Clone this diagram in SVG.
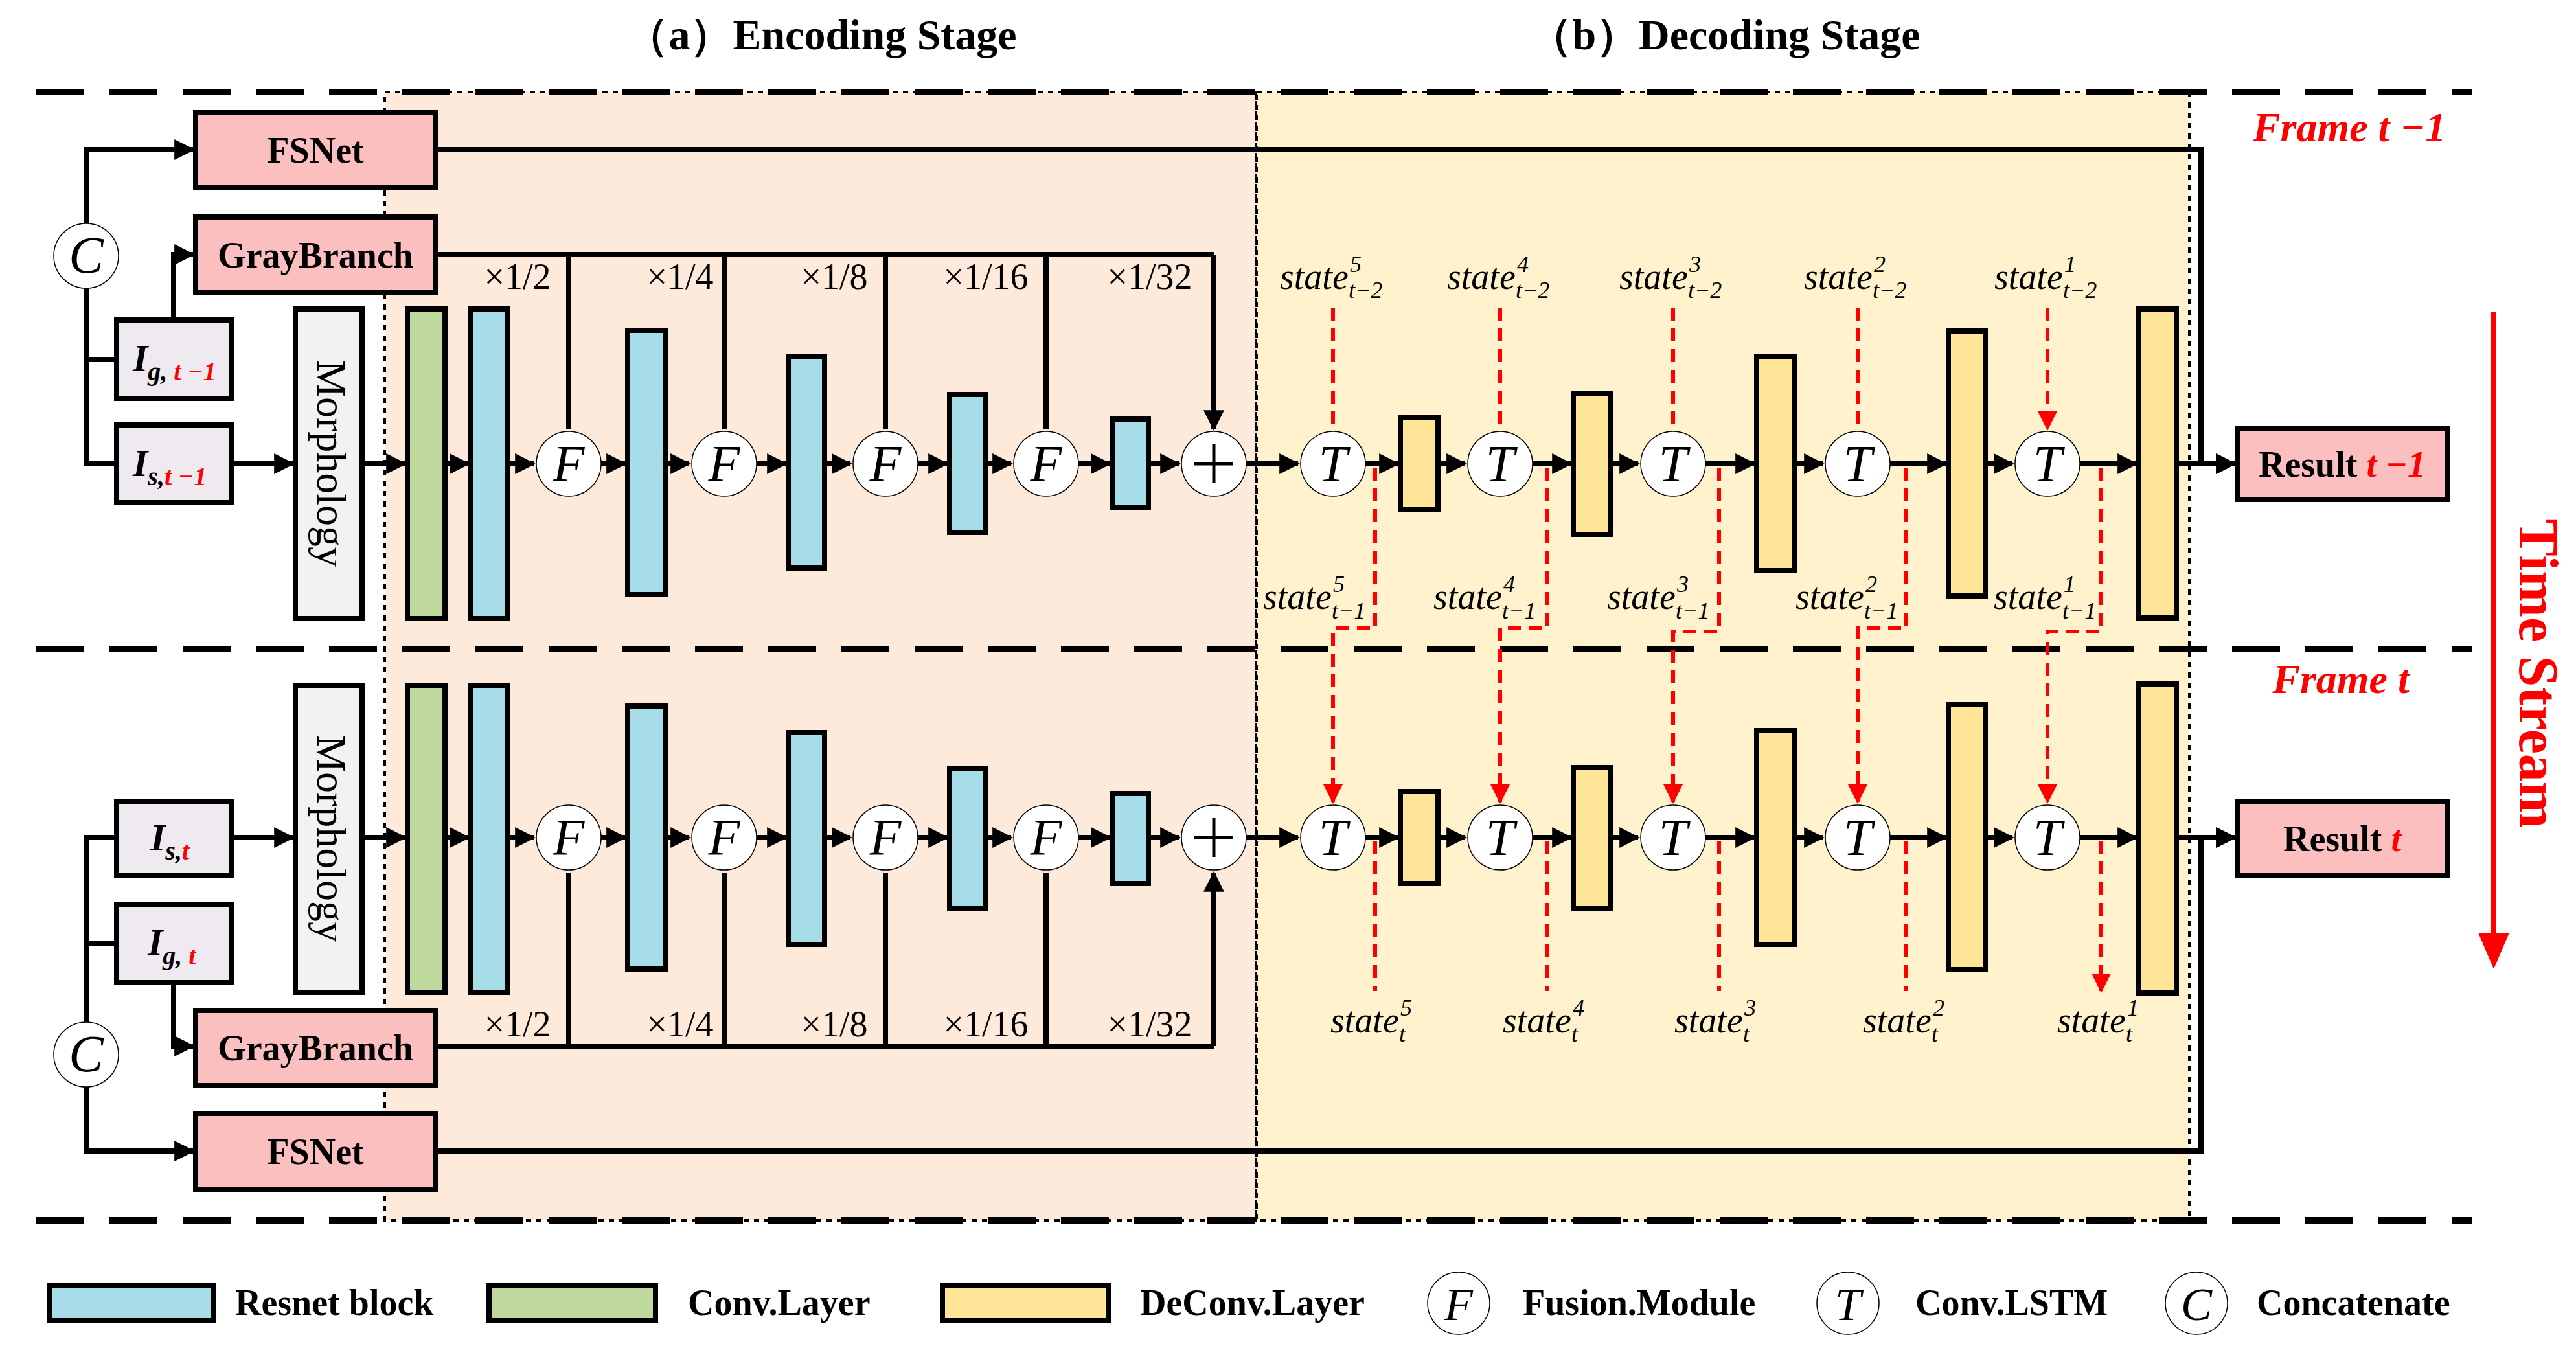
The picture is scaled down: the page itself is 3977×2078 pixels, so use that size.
<svg xmlns="http://www.w3.org/2000/svg" width="3977" height="2078" viewBox="0 0 3977 2078">
<style>
text{font-family:"Liberation Serif","Times New Roman",serif;}
.b{font-weight:bold;font-size:56px;text-anchor:middle}
.bx{stroke:#000;stroke-width:8}
.pk{fill:#fcbfc0}.gy{fill:#efe9f0}.mo{fill:#f2f2f2}
.gr{fill:#bed89d}.bl{fill:#a7dde8}.ye{fill:#fee597}
.ln{stroke:#000;stroke-width:8;fill:none}
.rd{stroke:#f00;stroke-width:6;fill:none;stroke-dasharray:20 12}
.ci{fill:#fff;stroke:#000;stroke-width:1.5}
.cl{font-style:italic;font-size:80px;text-anchor:middle}
.sc{font-size:56px;text-anchor:middle}
.st{font-style:italic;font-size:56px}
.ss{font-style:italic;font-size:36px}
.big{stroke:#000;stroke-width:10;stroke-dasharray:74 39}
.red{fill:#f00}
</style>
<defs>
<marker id="a" viewBox="0 0 10 10" refX="9" refY="5" markerWidth="4" markerHeight="4" orient="auto" markerUnits="strokeWidth"><path d="M0,0L10,5L0,10z"/></marker>
<marker id="r" viewBox="0 0 10 10" refX="9" refY="5" markerWidth="5" markerHeight="5" orient="auto" markerUnits="strokeWidth"><path d="M0,0L10,5L0,10z" fill="#f00"/></marker>
</defs>
<rect width="3977" height="2078" fill="#fff"/>
<g id="bg">
<rect x="594" y="142" width="1346" height="1742" fill="#fdeadb" stroke="#000" stroke-width="4" stroke-dasharray="8 8"/>
<rect x="1940" y="142" width="1440" height="1742" fill="#fff2cc" stroke="#000" stroke-width="4" stroke-dasharray="8 8"/>
<line x1="56" y1="142" x2="3817" y2="142" class="big"/>
<line x1="56" y1="1002" x2="3817" y2="1002" class="big"/>
<line x1="56" y1="1884" x2="3817" y2="1884" class="big"/>
</g>
<g id="titles">
<text x="1268" y="76" class="b" style="font-size:66px">（a）Encoding Stage</text>
<text x="2663" y="76" class="b" style="font-size:66px">（b）Decoding Stage</text>
<text x="3627" y="218" class="b red" style="font-style:italic;font-size:64px">Frame t −1</text>
<text x="3614" y="1070" class="b red" style="font-style:italic;font-size:64px">Frame t</text>
<text transform="translate(3890,1040) rotate(90)" class="b red" style="font-size:86px">Time Stream</text>
<line x1="3850" y1="482" x2="3850" y2="1440" stroke="#f00" stroke-width="8"/>
<path d="M3826,1440L3874,1440L3850,1496z" fill="#f00"/>
</g>
<g id="connectors">
<!-- top left -->
<polyline class="ln" points="133,345 133,231 298,231" marker-end="url(#a)"/>
<polyline class="ln" points="133,445 133,716 180,716"/>
<line class="ln" x1="133" y1="555" x2="180" y2="555"/>
<polyline class="ln" points="268,494 268,393 298,393" marker-end="url(#a)"/>
<path class="ln" marker-end="url(#a)" d="M357,716H452"/>
<path class="ln" marker-end="url(#a)" d="M559,716H625"/>
<path class="ln" marker-end="url(#a)" d="M687,716H723"/>
<path class="ln" marker-end="url(#a)" d="M784,716H824"/>
<path class="ln" marker-end="url(#a)" d="M928,716H965"/>
<path class="ln" marker-end="url(#a)" d="M1027,716H1064"/>
<path class="ln" marker-end="url(#a)" d="M1168,716H1213"/>
<path class="ln" marker-end="url(#a)" d="M1273,716H1313"/>
<path class="ln" marker-end="url(#a)" d="M1417,716H1462"/>
<path class="ln" marker-end="url(#a)" d="M1522,716H1561"/>
<path class="ln" marker-end="url(#a)" d="M1665,716H1713"/>
<path class="ln" marker-end="url(#a)" d="M1773,716H1820"/>
<path class="ln" marker-end="url(#a)" d="M1924,716H2004"/>
<path class="ln" marker-end="url(#a)" d="M2108,716H2158"/>
<path class="ln" marker-end="url(#a)" d="M2220,716H2262"/>
<path class="ln" marker-end="url(#a)" d="M2366,716H2425"/>
<path class="ln" marker-end="url(#a)" d="M2486,716H2529"/>
<path class="ln" marker-end="url(#a)" d="M2633,716H2708"/>
<path class="ln" marker-end="url(#a)" d="M2771,716H2814"/>
<path class="ln" marker-end="url(#a)" d="M2918,716H3004"/>
<path class="ln" marker-end="url(#a)" d="M3065,716H3107"/>
<path class="ln" marker-end="url(#a)" d="M3211,716H3298"/>
<path class="ln" marker-end="url(#a)" d="M3360,716H3450"/>
<polyline class="ln" points="672,231 3398,231 3398,716 3450,716" marker-end="url(#a)"/>
<path class="ln" d="M672,393H1874"/>
<path class="ln" marker-end="url(#a)" d="M878,393V662M1118,393V662M1367,393V662M1615,393V662M1874,393V662"/>
<!-- bottom -->
<polyline class="ln" points="133,1578 133,1293 180,1293"/>
<line class="ln" x1="133" y1="1457" x2="180" y2="1457"/>
<polyline class="ln" points="133,1678 133,1777 298,1777" marker-end="url(#a)"/>
<polyline class="ln" points="268,1517 268,1615 298,1615" marker-end="url(#a)"/>
<path class="ln" marker-end="url(#a)" d="M357,1293H452"/>
<path class="ln" marker-end="url(#a)" d="M559,1293H625"/>
<path class="ln" marker-end="url(#a)" d="M687,1293H723"/>
<path class="ln" marker-end="url(#a)" d="M784,1293H824"/>
<path class="ln" marker-end="url(#a)" d="M928,1293H965"/>
<path class="ln" marker-end="url(#a)" d="M1027,1293H1064"/>
<path class="ln" marker-end="url(#a)" d="M1168,1293H1213"/>
<path class="ln" marker-end="url(#a)" d="M1273,1293H1313"/>
<path class="ln" marker-end="url(#a)" d="M1417,1293H1462"/>
<path class="ln" marker-end="url(#a)" d="M1522,1293H1561"/>
<path class="ln" marker-end="url(#a)" d="M1665,1293H1713"/>
<path class="ln" marker-end="url(#a)" d="M1773,1293H1820"/>
<path class="ln" marker-end="url(#a)" d="M1924,1293H2004"/>
<path class="ln" marker-end="url(#a)" d="M2108,1293H2158"/>
<path class="ln" marker-end="url(#a)" d="M2220,1293H2262"/>
<path class="ln" marker-end="url(#a)" d="M2366,1293H2425"/>
<path class="ln" marker-end="url(#a)" d="M2486,1293H2529"/>
<path class="ln" marker-end="url(#a)" d="M2633,1293H2708"/>
<path class="ln" marker-end="url(#a)" d="M2771,1293H2814"/>
<path class="ln" marker-end="url(#a)" d="M2918,1293H3004"/>
<path class="ln" marker-end="url(#a)" d="M3065,1293H3107"/>
<path class="ln" marker-end="url(#a)" d="M3211,1293H3298"/>
<path class="ln" marker-end="url(#a)" d="M3360,1293H3450"/>
<polyline class="ln" points="672,1777 3398,1777 3398,1293 3450,1293" marker-end="url(#a)"/>
<path class="ln" d="M672,1615H1874"/>
<path class="ln" marker-end="url(#a)" d="M878,1615V1348M1118,1615V1348M1367,1615V1348M1615,1615V1348M1874,1615V1348"/>
<!-- red state connectors -->
<path class="rd" marker-end="url(#r)" d="M2058,475V662M2316,475V662M2583,475V662M2868,475V662M3161,475V662"/>
<polyline class="rd" points="2123,722 2123,970 2058,970 2058,1238" marker-end="url(#r)"/>
<polyline class="rd" points="2388,722 2388,970 2316,970 2316,1238" marker-end="url(#r)"/>
<polyline class="rd" points="2654,722 2654,975 2583,975 2583,1238" marker-end="url(#r)"/>
<polyline class="rd" points="2943,722 2943,970 2868,970 2868,1238" marker-end="url(#r)"/>
<polyline class="rd" points="3244,722 3244,975 3161,975 3161,1238" marker-end="url(#r)"/>
<path class="rd" marker-end="url(#r)" d="M2123,1298V1530M2388,1298V1530M2654,1298V1530M2943,1298V1530M3244,1298V1530"/>
</g>
<g id="scales">
<text x="799" y="446" class="sc">×1/2</text><text x="1050" y="446" class="sc">×1/4</text><text x="1288" y="446" class="sc">×1/8</text><text x="1522" y="446" class="sc">×1/16</text><text x="1775" y="446" class="sc">×1/32</text>
<text x="799" y="1600" class="sc">×1/2</text><text x="1050" y="1600" class="sc">×1/4</text><text x="1288" y="1600" class="sc">×1/8</text><text x="1522" y="1600" class="sc">×1/16</text><text x="1775" y="1600" class="sc">×1/32</text>
</g>
<g id="top-frame">
<g id="fsnet1"><rect class="bx pk" x="302" y="174" width="370" height="116"/><text x="487" y="251" class="b">FSNet</text></g>
<g id="gray1"><rect class="bx pk" x="302" y="335" width="370" height="116"/><text x="487" y="413" class="b">GrayBranch</text></g>
<g id="concat1"><circle class="ci" cx="133" cy="395" r="50"/><text x="133" y="421" class="cl">C</text></g>
<g id="ig1"><rect class="bx gy" x="180" y="494" width="177" height="121"/><text x="205" y="573" style="font-size:60px;font-weight:bold;font-style:italic">I<tspan font-size="40" dy="14">g, </tspan><tspan font-size="40" fill="#f00">t −1</tspan></text></g>
<g id="is1"><rect class="bx gy" x="180" y="656" width="177" height="120"/><text x="205" y="735" style="font-size:60px;font-weight:bold;font-style:italic">I<tspan font-size="40" dy="14">s,</tspan><tspan font-size="40" fill="#f00">t −1</tspan></text></g>
<g id="morph1"><rect class="bx mo" x="456" y="477" width="103" height="478"/><text transform="translate(490,716) rotate(90)" style="font-size:64px;text-anchor:middle">Morphology</text></g>
<g id="conv1"><rect class="bx gr" x="629" y="477" width="58" height="478"/></g>
<g id="res1a"><rect class="bx bl" x="727" y="477" width="57" height="478"/></g>
<g id="f1a"><circle class="ci" cx="878" cy="716" r="50"/><text x="878" y="743" class="cl">F</text></g>
<g id="res1b"><rect class="bx bl" x="969" y="510" width="58" height="408"/></g>
<g id="f1b"><circle class="ci" cx="1118" cy="716" r="50"/><text x="1118" y="743" class="cl">F</text></g>
<g id="res1c"><rect class="bx bl" x="1217" y="550" width="56" height="327"/></g>
<g id="f1c"><circle class="ci" cx="1367" cy="716" r="50"/><text x="1367" y="743" class="cl">F</text></g>
<g id="res1d"><rect class="bx bl" x="1466" y="609" width="56" height="213"/></g>
<g id="f1d"><circle class="ci" cx="1615" cy="716" r="50"/><text x="1615" y="743" class="cl">F</text></g>
<g id="res1e"><rect class="bx bl" x="1717" y="647" width="56" height="137"/></g>
<g id="plus1"><circle class="ci" cx="1874" cy="716" r="50"/><path d="M1844,716H1904M1874,686V746" stroke="#000" stroke-width="5"/></g>
<g id="t1a"><circle class="ci" cx="2058" cy="716" r="50"/><text x="2058" y="743" class="cl">T</text></g>
<g id="d1a"><rect class="bx ye" x="2162" y="645" width="58" height="142"/></g>
<g id="t1b"><circle class="ci" cx="2316" cy="716" r="50"/><text x="2316" y="743" class="cl">T</text></g>
<g id="d1b"><rect class="bx ye" x="2429" y="608" width="57" height="217"/></g>
<g id="t1c"><circle class="ci" cx="2583" cy="716" r="50"/><text x="2583" y="743" class="cl">T</text></g>
<g id="d1c"><rect class="bx ye" x="2712" y="551" width="59" height="330"/></g>
<g id="t1d"><circle class="ci" cx="2868" cy="716" r="50"/><text x="2868" y="743" class="cl">T</text></g>
<g id="d1d"><rect class="bx ye" x="3008" y="511" width="57" height="409"/></g>
<g id="t1e"><circle class="ci" cx="3161" cy="716" r="50"/><text x="3161" y="743" class="cl">T</text></g>
<g id="d1e"><rect class="bx ye" x="3302" y="477" width="58" height="477"/></g>
<g id="res-t1"><rect class="bx pk" x="3454" y="662" width="325" height="109"/><text x="3616" y="736" class="b">Result <tspan fill="#f00" font-style="italic">t −1</tspan></text></g>
</g>
<g id="bottom-frame">
<g id="fsnet2"><rect class="bx pk" x="302" y="1719" width="370" height="117"/><text x="487" y="1797" class="b">FSNet</text></g>
<g id="gray2"><rect class="bx pk" x="302" y="1560" width="370" height="116"/><text x="487" y="1637" class="b">GrayBranch</text></g>
<g id="concat2"><circle class="ci" cx="133" cy="1628" r="50"/><text x="133" y="1654" class="cl">C</text></g>
<g id="is2"><rect class="bx gy" x="180" y="1238" width="177" height="114"/><text x="232" y="1313" style="font-size:60px;font-weight:bold;font-style:italic">I<tspan font-size="40" dy="14">s,</tspan><tspan font-size="40" fill="#f00">t</tspan></text></g>
<g id="ig2"><rect class="bx gy" x="180" y="1397" width="177" height="120"/><text x="228" y="1475" style="font-size:60px;font-weight:bold;font-style:italic">I<tspan font-size="40" dy="14">g, </tspan><tspan font-size="40" fill="#f00">t</tspan></text></g>
<g id="morph2"><rect class="bx mo" x="456" y="1058" width="103" height="474"/><text transform="translate(490,1295) rotate(90)" style="font-size:64px;text-anchor:middle">Morphology</text></g>
<g id="conv2"><rect class="bx gr" x="629" y="1058" width="58" height="474"/></g>
<g id="res2a"><rect class="bx bl" x="727" y="1058" width="57" height="474"/></g>
<g id="f2a"><circle class="ci" cx="878" cy="1293" r="50"/><text x="878" y="1320" class="cl">F</text></g>
<g id="res2b"><rect class="bx bl" x="969" y="1090" width="58" height="406"/></g>
<g id="f2b"><circle class="ci" cx="1118" cy="1293" r="50"/><text x="1118" y="1320" class="cl">F</text></g>
<g id="res2c"><rect class="bx bl" x="1217" y="1131" width="56" height="327"/></g>
<g id="f2c"><circle class="ci" cx="1367" cy="1293" r="50"/><text x="1367" y="1320" class="cl">F</text></g>
<g id="res2d"><rect class="bx bl" x="1466" y="1187" width="56" height="215"/></g>
<g id="f2d"><circle class="ci" cx="1615" cy="1293" r="50"/><text x="1615" y="1320" class="cl">F</text></g>
<g id="res2e"><rect class="bx bl" x="1717" y="1225" width="56" height="139"/></g>
<g id="plus2"><circle class="ci" cx="1874" cy="1293" r="50"/><path d="M1844,1293H1904M1874,1263V1323" stroke="#000" stroke-width="5"/></g>
<g id="t2a"><circle class="ci" cx="2058" cy="1293" r="50"/><text x="2058" y="1320" class="cl">T</text></g>
<g id="d2a"><rect class="bx ye" x="2162" y="1222" width="58" height="142"/></g>
<g id="t2b"><circle class="ci" cx="2316" cy="1293" r="50"/><text x="2316" y="1320" class="cl">T</text></g>
<g id="d2b"><rect class="bx ye" x="2429" y="1185" width="57" height="217"/></g>
<g id="t2c"><circle class="ci" cx="2583" cy="1293" r="50"/><text x="2583" y="1320" class="cl">T</text></g>
<g id="d2c"><rect class="bx ye" x="2712" y="1128" width="59" height="330"/></g>
<g id="t2d"><circle class="ci" cx="2868" cy="1293" r="50"/><text x="2868" y="1320" class="cl">T</text></g>
<g id="d2d"><rect class="bx ye" x="3008" y="1088" width="57" height="409"/></g>
<g id="t2e"><circle class="ci" cx="3161" cy="1293" r="50"/><text x="3161" y="1320" class="cl">T</text></g>
<g id="d2e"><rect class="bx ye" x="3302" y="1056" width="58" height="477"/></g>
<g id="res-t2"><rect class="bx pk" x="3454" y="1238" width="325" height="114"/><text x="3616" y="1314" class="b">Result <tspan fill="#f00" font-style="italic">t</tspan></text></g>
</g>
<g id="states">
<text x="1976" y="446" class="st">state</text><text x="2084" y="420" class="ss">5</text><text x="2082" y="460" class="ss">t−2</text>
<text x="2234" y="446" class="st">state</text><text x="2342" y="420" class="ss">4</text><text x="2340" y="460" class="ss">t−2</text>
<text x="2500" y="446" class="st">state</text><text x="2608" y="420" class="ss">3</text><text x="2606" y="460" class="ss">t−2</text>
<text x="2785" y="446" class="st">state</text><text x="2893" y="420" class="ss">2</text><text x="2891" y="460" class="ss">t−2</text>
<text x="3079" y="446" class="st">state</text><text x="3187" y="420" class="ss">1</text><text x="3185" y="460" class="ss">t−2</text>
<text x="1950" y="940" class="st">state</text><text x="2058" y="914" class="ss">5</text><text x="2056" y="955" class="ss">t−1</text>
<text x="2213" y="940" class="st">state</text><text x="2321" y="914" class="ss">4</text><text x="2319" y="955" class="ss">t−1</text>
<text x="2481" y="940" class="st">state</text><text x="2589" y="914" class="ss">3</text><text x="2587" y="955" class="ss">t−1</text>
<text x="2772" y="940" class="st">state</text><text x="2880" y="914" class="ss">2</text><text x="2878" y="955" class="ss">t−1</text>
<text x="3078" y="940" class="st">state</text><text x="3186" y="914" class="ss">1</text><text x="3184" y="955" class="ss">t−1</text>
<text x="2054" y="1594" class="st">state</text><text x="2162" y="1568" class="ss">5</text><text x="2160" y="1608" class="ss">t</text>
<text x="2320" y="1594" class="st">state</text><text x="2428" y="1568" class="ss">4</text><text x="2426" y="1608" class="ss">t</text>
<text x="2585" y="1594" class="st">state</text><text x="2693" y="1568" class="ss">3</text><text x="2691" y="1608" class="ss">t</text>
<text x="2876" y="1594" class="st">state</text><text x="2984" y="1568" class="ss">2</text><text x="2982" y="1608" class="ss">t</text>
<text x="3176" y="1594" class="st">state</text><text x="3284" y="1568" class="ss">1</text><text x="3282" y="1608" class="ss">t</text>
</g>
<g id="legend">
<rect class="bx bl" x="76" y="1985" width="254" height="54"/><text x="363" y="2030" style="font-weight:bold;font-size:56px">Resnet block</text>
<rect class="bx gr" x="755" y="1985" width="257" height="54"/><text x="1062" y="2030" style="font-weight:bold;font-size:56px">Conv.Layer</text>
<rect class="bx ye" x="1455" y="1985" width="257" height="54"/><text x="1760" y="2030" style="font-weight:bold;font-size:56px">DeConv.Layer</text>
<circle class="ci" cx="2252" cy="2012" r="48"/><text x="2252" y="2038" class="cl" style="font-size:72px">F</text><text x="2351" y="2030" style="font-weight:bold;font-size:56px">Fusion.Module</text>
<circle class="ci" cx="2853" cy="2012" r="48"/><text x="2853" y="2038" class="cl" style="font-size:72px">T</text><text x="2957" y="2030" style="font-weight:bold;font-size:56px">Conv.LSTM</text>
<circle class="ci" cx="3391" cy="2012" r="48"/><text x="3391" y="2038" class="cl" style="font-size:72px">C</text><text x="3484" y="2030" style="font-weight:bold;font-size:56px">Concatenate</text>
</g>
</svg>
